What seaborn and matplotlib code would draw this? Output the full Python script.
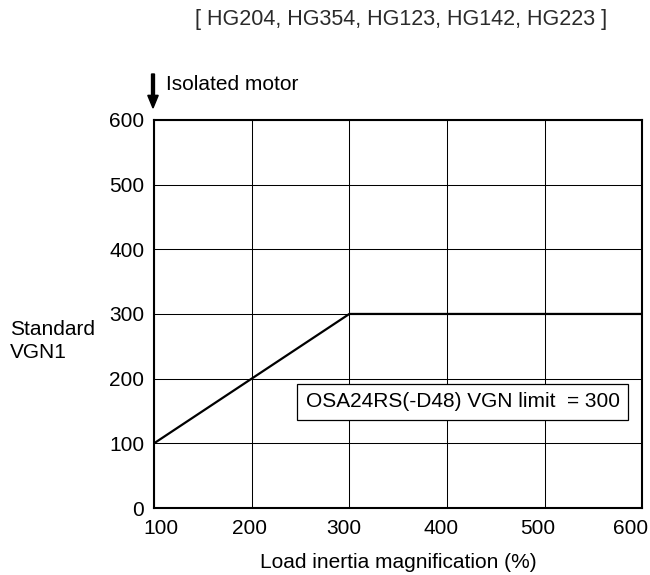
import matplotlib
matplotlib.use("Agg")
import matplotlib.pyplot as plt
import matplotlib.transforms as mtransforms
import seaborn as sns
import pandas as pd

# data
inertia_pct = [100, 300, 600]
vgn1 = [100, 300, 300]
x_ticks = [100, 200, 300, 400, 500, 600]
y_ticks = [0, 100, 200, 300, 400, 500, 600]
title_text = "[ HG204, HG354, HG123, HG142, HG223 ]"
limit_text = "OSA24RS(-D48) VGN limit  = 300"

sns.set_theme(style="white")
plt.rcParams['font.family'] = ['Liberation Sans', 'DejaVu Sans']
plt.rcParams['text.color'] = 'black'
FS = 15

df = pd.DataFrame({"inertia": inertia_pct, "vgn": vgn1})

fig = plt.figure(figsize=(6.5, 5.75), dpi=100)
ax = fig.add_axes([0.237, 0.1165, 0.751, 0.675])

sns.lineplot(data=df, x="inertia", y="vgn", color="black", linewidth=1.6, ax=ax)

ax.set_xlim(100, 600)
ax.set_ylim(0, 600)
ax.set_xticks(x_ticks)
ax.set_yticks(y_ticks)
ax.grid(True, color="black", linewidth=0.75)
ax.set_axisbelow(True)
for sp in ax.spines.values():
    sp.set_visible(True)
    sp.set_color("black")
    sp.set_linewidth(1.5)
ax.tick_params(axis="x", length=0, pad=8, labelsize=FS, colors="black")
ax.tick_params(axis="y", length=0, pad=7, labelsize=FS, colors="black")

# nudge x tick labels so the end ones stay inside, as in the reference
shifts = [7, -2, -5, -6, -7, -12]
for lab, dx in zip(ax.get_xticklabels(), shifts):
    lab.set_transform(lab.get_transform() +
                      mtransforms.ScaledTranslation(dx / 100, 0, fig.dpi_scale_trans))

ax.set_xlabel("Load inertia magnification (%)", fontsize=FS, color="black", labelpad=11)
ax.set_ylabel("")

fig.text(10 / 650, 1 - 341 / 575, "Standard\nVGN1", fontsize=FS, ha="left", va="center",
         linespacing=1.3, color="black")
fig.text(401 / 650, 1 - 19 / 575, title_text, fontsize=15.5, ha="center", va="center",
         color="#2a2a2a")
fig.text(166 / 650, 1 - 85 / 575, "Isolated motor", fontsize=FS, ha="left", va="center",
         color="black")
fig.patches.append(matplotlib.patches.FancyArrow(
    153 / 650, 1 - 74 / 575, 0, -34 / 575, width=0.0045, head_width=0.016,
    head_length=0.022, length_includes_head=True, color="black",
    transform=fig.transFigure, figure=fig))

ax.text(416, 164, limit_text, fontsize=FS, ha="center", va="center", color="black",
        bbox=dict(boxstyle="square,pad=0.42", facecolor="white", edgecolor="black",
                  linewidth=0.9))

fig.savefig("out.png", dpi=100)
